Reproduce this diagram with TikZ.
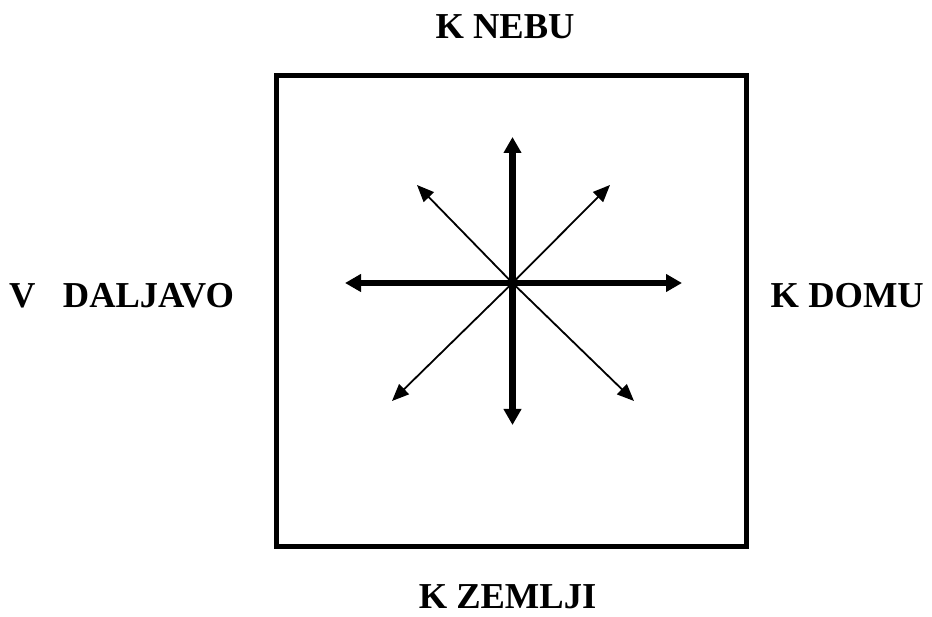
\documentclass[tikz,border=0pt]{standalone}
\usepackage{fontspec}
\setmainfont{Liberation Serif}
\usetikzlibrary{arrows.meta}
\begin{document}
\begin{tikzpicture}[x=1pt,y=-1pt,
  lbl/.style={font=\fontsize{36.5}{40}\selectfont\bfseries, inner sep=0pt, anchor=base},
  thick arrow/.style={line width=6.5pt, -{Triangle[length=16pt,width=17pt]}},
  thin arrow/.style={line width=1.8pt, -{Triangle[length=17pt,width=14pt]}}]
\useasboundingbox (0,0) rectangle (932,617);
\node[draw, line width=5pt, minimum width=470pt, minimum height=470pt, inner sep=0pt] (box) at (511,311) {};
\coordinate (c) at (512.5,283);
\coordinate (n) at (512.5,137);
\coordinate (s) at (512.5,425);
\coordinate (w) at (345,283);
\coordinate (e) at (682,283);
\coordinate (nw) at (417,185);
\coordinate (ne) at (610,185);
\coordinate (sw) at (392,401);
\coordinate (se) at (634,401);
\draw[thin arrow] (c) -- (nw);
\draw[thin arrow] (c) -- (ne);
\draw[thin arrow] (c) -- (sw);
\draw[thin arrow] (c) -- (se);
\draw[thick arrow] (c) -- (n);
\draw[thick arrow] (c) -- (s);
\draw[thick arrow] (c) -- (w);
\draw[thick arrow] (c) -- (e);
\node[lbl] (top) at (505,39) {K NEBU};
\node[lbl] (bot) at (507.5,608) {K ZEMLJI};
\node[lbl, anchor=base west] (left) at (9,308) {V\hspace{0.75em}DALJAVO};
\node[lbl, anchor=base east] (right) at (924,308) {K DOMU};
\end{tikzpicture}
\end{document}
